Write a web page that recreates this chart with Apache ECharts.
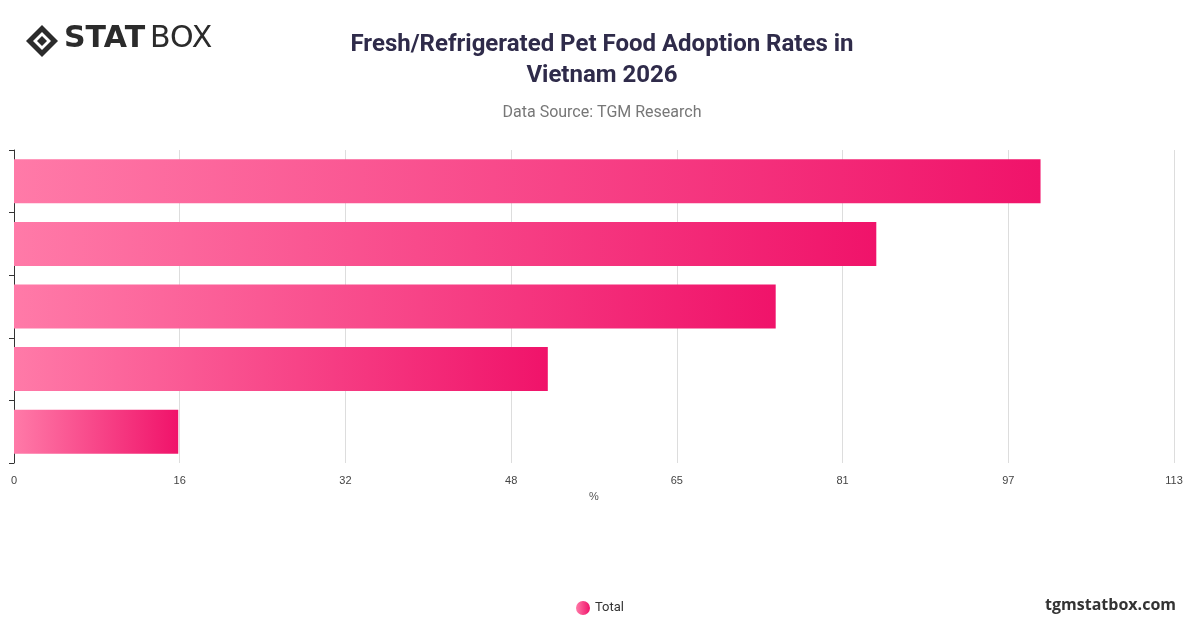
<!DOCTYPE html>
<html><head><meta charset="utf-8">
<script src="https://cdn.jsdelivr.net/npm/echarts@6/dist/echarts.min.js"></script>
<style>html,body{margin:0;padding:0;background:#fff}#c{width:1200px;height:628px}</style>
</head><body><div id="c"></div>
<script>
const categories = ['Category 5','Category 4','Category 3','Category 2','Category 1'];
const values = [16, 52, 74.2, 84, 100];
const seriesName = 'Total';
const axisMax = 113;
const axisSteps = 7;

const chart = echarts.init(document.getElementById('c'));
chart.setOption({
  animation:false,
  graphic:[
    {type:'group',left:26,top:24,children:[
      {type:'polygon',shape:{points:[[16,0],[32,16],[16,32],[0,16]]},style:{fill:'#2b2b2b'}},
      {type:'polygon',shape:{points:[[16,7],[25,16],[16,25],[7,16]]},style:{fill:'#fff'}},
      {type:'polygon',shape:{points:[[16,11],[21,16],[16,21],[11,16]]},style:{fill:'#2b2b2b'}},
      {type:'text',left:38,top:-1,style:{text:'STAT',font:'900 30px "DejaVu Sans"',fill:'#2b2b2b'}},
      {type:'text',left:124,top:-1,style:{text:'BOX',font:'400 30px "DejaVu Sans"',fill:'#2b2b2b'}}
    ]},
    {type:'text',right:24,top:597,style:{text:'tgmstatbox.com',font:'bold 16px "Open Sans"',fill:'#333'}}
  ],
  title:{text:'Fresh/Refrigerated Pet Food Adoption Rates in\nVietnam 2026',subtext:'Data Source: TGM Research',
    left:597,textAlign:'center',top:24,
    textStyle:{fontFamily:'Roboto',fontSize:24,fontWeight:'bold',color:'#2f2b4a',lineHeight:31},
    subtextStyle:{fontFamily:'Roboto',fontSize:16,color:'#777'},itemGap:14},
  legend:{bottom:8,left:'center',icon:'circle',itemWidth:14,itemHeight:14,
    textStyle:{fontFamily:'Roboto',fontSize:13,color:'#333'},data:[seriesName]},
  grid:{left:14,right:26,top:150,bottom:165,containLabel:false},
  xAxis:{type:'value',min:0,max:axisMax,interval:axisMax/axisSteps,name:'%',nameLocation:'middle',nameGap:28,
    nameTextStyle:{fontSize:11,color:'#555'},
    axisLabel:{formatter:v=>Math.round(v),fontSize:11,color:'#444',margin:12},
    splitLine:{lineStyle:{color:'#ddd'}},axisLine:{show:false},axisTick:{show:false}},
  yAxis:{type:'category',data:categories,axisLabel:{show:false},
    axisLine:{lineStyle:{color:'#333'}},axisTick:{show:true,lineStyle:{color:'#333'}}},
  series:[{name:seriesName,type:'bar',data:values,barWidth:44,
    itemStyle:{color:new echarts.graphic.LinearGradient(0,0,1,0,[{offset:0,color:'#ff7aa8'},{offset:1,color:'#f0136a'}])}}]
});
</script></body></html>
